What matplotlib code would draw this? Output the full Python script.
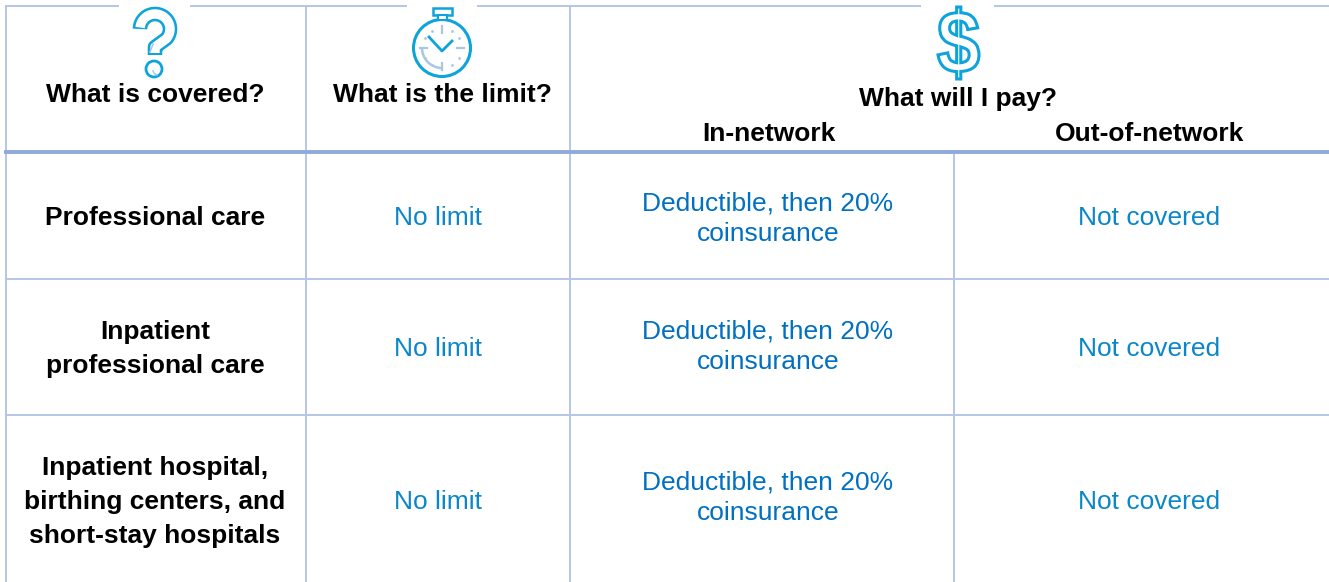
import matplotlib
matplotlib.use('Agg')
import matplotlib.pyplot as plt
from matplotlib.font_manager import FontProperties
from matplotlib.patches import Circle, Rectangle, Arc, PathPatch
from matplotlib.textpath import TextPath
from matplotlib.transforms import Affine2D
import numpy as np

plt.rcParams['font.family'] = ['Liberation Sans', 'DejaVu Sans']

headers = ['What is covered?', 'What is the limit?', 'What will I pay?']
subheaders = ['In-network', 'Out-of-network']
rows = ['Professional care', 'Inpatient\nprofessional care',
        'Inpatient hospital,\nbirthing centers, and\nshort-stay hospitals']
limits = ['No limit', 'No limit', 'No limit']
in_network = ['Deductible, then 20%\ncoinsurance'] * 3
out_network = ['Not covered', 'Not covered', 'Not covered']

# layout in pixels
col_x = [6, 306, 570, 954]
row_y = [279, 415]
row_mid = [216, 347, 500]
pay_mid = [218, 346, 497]
grid = '#B4C6E7'
head = '#8EAADB'
blue = '#0070C0'
light_blue = '#0B87C9'
icon = '#0FA3DC'
pale = '#A9C8E0'
fs = 19.0

fig = plt.figure(figsize=(13.29, 5.82), dpi=100)
ax = fig.add_axes([0, 0, 1, 1])
ax.set_xlim(0, 1329)
ax.set_ylim(582, 0)
ax.axis('off')

# grid lines, top one has gaps behind the icons
ax.plot([6, 118], [6, 6], color=grid, lw=1.4)
ax.plot([191, 406], [6, 6], color=grid, lw=1.4)
ax.plot([478, 920], [6, 6], color=grid, lw=1.4)
ax.plot([995, 1329], [6, 6], color=grid, lw=1.4)
for x in col_x[:3]:
    ax.plot([x, x], [6, 582], color=grid, lw=1.4)
ax.plot([col_x[3], col_x[3]], [153, 582], color=grid, lw=1.4)
for y in row_y:
    ax.plot([6, 1329], [y, y], color=grid, lw=1.4)
ax.plot([6, 1329], [152, 152], color=head, lw=2.8)

# header text
ax.text(155, 95, headers[0], ha='center', va='center', fontsize=fs, fontweight='bold')
ax.text(442, 95, headers[1], ha='center', va='center', fontsize=fs, fontweight='bold')
ax.text(958, 99, headers[2], ha='center', va='center', fontsize=fs, fontweight='bold')
ax.text(769, 134, subheaders[0], ha='center', va='center', fontsize=fs, fontweight='bold')
ax.text(1150, 134, subheaders[1], ha='center', va='center', fontsize=fs, fontweight='bold')

# body text
for i in range(3):
    ax.text(155, row_mid[i] + 2, rows[i], ha='center', va='center', fontsize=fs,
            fontweight='bold', linespacing=1.55)
    ax.text(438, row_mid[i] + 2, limits[i], ha='center', va='center', fontsize=fs, color=light_blue)
    ax.text(768, pay_mid[i] + 1, in_network[i], ha='center', va='center', fontsize=fs,
            color=blue, linespacing=1.36)
    ax.text(1149, row_mid[i] + 2, out_network[i], ha='center', va='center', fontsize=fs, color=light_blue)

# question mark icon, outline made from a thick line with a thinner white one on top
t = np.deg2rad(np.linspace(180, -40, 40))
qx = np.concatenate([155 + 15*np.cos(t), [155, 155]])
qy = np.concatenate([29 - 15*np.sin(t), [47, 55]])
ax.plot(qx, qy, color=icon, lw=10.5, solid_capstyle='butt', solid_joinstyle='round')
ax.plot(qx[1:-1].tolist() + [155], qy[1:-1].tolist() + [53], color='white', lw=6.8,
        solid_capstyle='butt', solid_joinstyle='round')
ax.add_patch(Circle((154, 69), 8, fc='white', ec=icon, lw=2.0))
ax.add_patch(Arc((158, 70), 10, 10, theta1=90, theta2=180, color=pale, lw=1.0))
ax.plot([150, 153], [52, 44], color=pale, lw=1.2)

# dollar icon, glyph outline squeezed to the icon box
tp = TextPath((0, 0), '$', size=100, prop=FontProperties(family='Liberation Sans', weight='bold'))
b = tp.get_extents()
tr = Affine2D().translate(-b.x0, -b.y1).scale(41 / b.width, -72 / b.height).translate(938, 7)
ax.add_patch(PathPatch(tp, fc='white', ec=icon, lw=2.2, transform=tr + ax.transData))

# stopwatch icon
cx, cy = 442, 48
ax.add_patch(Circle((cx, cy), 28.5, fc='white', ec=icon, lw=2.2))
ax.add_patch(Rectangle((433, 8), 19, 7, fc='white', ec=icon, lw=1.8))
ax.add_patch(Rectangle((438, 15), 9, 5, fc='white', ec=icon, lw=1.5))
ax.plot([429, cx, 452], [37, 51, 41], color=icon, lw=2.0)
ang = np.deg2rad([0, 90, 180, 270])
for a in ang:
    ax.plot([cx + 15*np.cos(a), cx + 22*np.cos(a)], [cy + 15*np.sin(a), cy + 22*np.sin(a)],
            color=pale, lw=1.6)
ax.add_patch(Arc((cx, cy), 40, 40, theta1=90, theta2=178, color=pale, lw=1.8))
for a in np.deg2rad([30, 60, 120, 150, 210, 240, 300, 330]):
    ax.plot(cx + 20*np.cos(a), cy + 20*np.sin(a), '.', color=pale, ms=2)

fig.savefig('out.png', dpi=100, facecolor='white')
